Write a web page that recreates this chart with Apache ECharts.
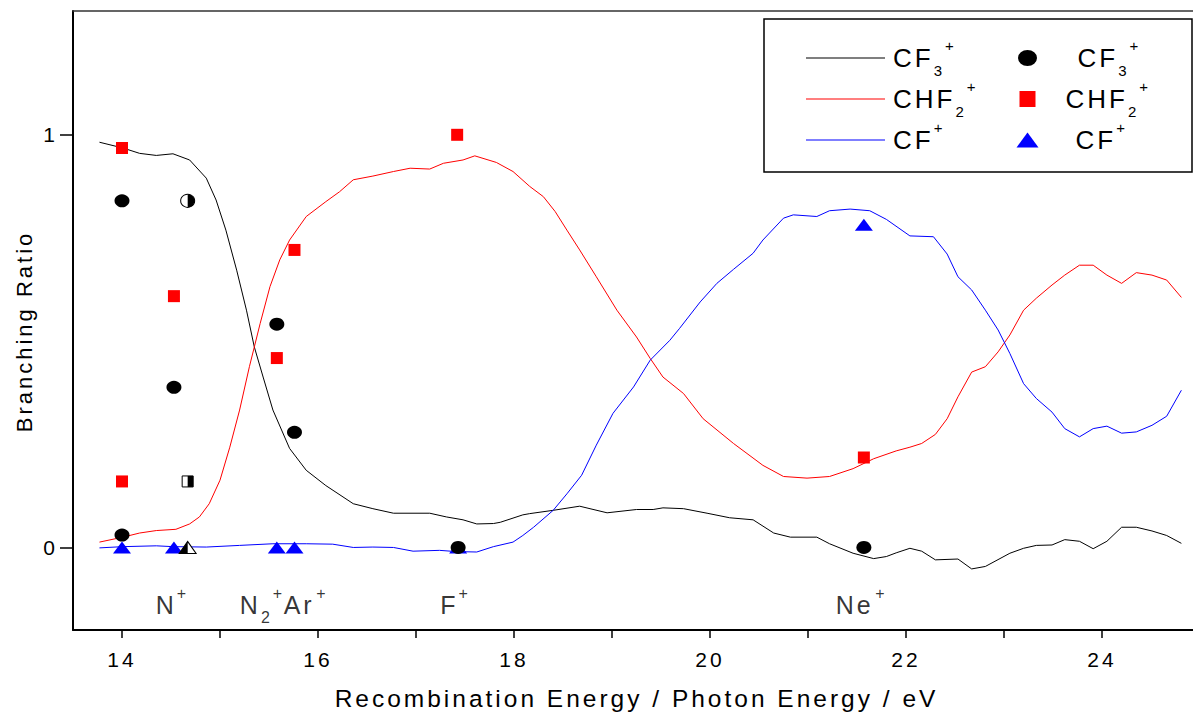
<!DOCTYPE html>
<html><head><meta charset="utf-8">
<script src="https://cdn.jsdelivr.net/npm/echarts@6/dist/echarts.min.js"></script>
<style>
html,body{margin:0;padding:0;background:#fff;}
#chart{width:1193px;height:712px;}
#chart svg text{letter-spacing:3px;}
</style></head><body><div id="chart"></div>
<script>
// ---- fitted curves (energy eV, branching ratio) ----
const cf3LineE = [13.77,14.01,14.18,14.35,14.52,14.69,14.86,14.96,15.06,15.17,15.27,15.35,15.44,15.54,15.71,15.88,16.08,16.36,16.56,16.77,17.14,17.31,17.48,17.62,17.79,17.86,18.09,18.16,18.40,18.67,18.95,19.25,19.42,19.52,19.73,19.97,20.20,20.44,20.65,20.82,21.09,21.22,21.46,21.67,21.80,21.90,22.04,22.16,22.30,22.53,22.67,22.81,23.06,23.20,23.33,23.49,23.62,23.77,23.91,24.05,24.20,24.35,24.51,24.66,24.81];
const cf3LineV = [0.982,0.968,0.955,0.950,0.954,0.939,0.895,0.842,0.769,0.672,0.575,0.486,0.413,0.333,0.240,0.187,0.150,0.106,0.094,0.083,0.083,0.074,0.067,0.057,0.058,0.061,0.079,0.082,0.090,0.100,0.084,0.092,0.092,0.096,0.094,0.083,0.072,0.067,0.035,0.025,0.025,0.009,-0.014,-0.027,-0.022,-0.013,-0.002,-0.009,-0.030,-0.028,-0.052,-0.046,-0.014,-0.002,0.005,0.006,0.019,0.015,-0.003,0.015,0.049,0.049,0.040,0.029,0.010];
const chf2LineE = [13.77,14.01,14.18,14.35,14.55,14.69,14.79,14.89,15.00,15.10,15.20,15.30,15.41,15.51,15.61,15.71,15.88,16.08,16.22,16.36,16.56,16.77,16.94,17.14,17.28,17.48,17.60,17.82,17.99,18.16,18.30,18.42,18.54,18.67,18.84,19.05,19.25,19.39,19.52,19.73,19.93,20.24,20.54,20.75,20.99,21.22,21.46,21.67,21.90,22.04,22.16,22.30,22.42,22.53,22.67,22.81,22.94,23.06,23.20,23.33,23.49,23.62,23.77,23.91,24.05,24.20,24.35,24.51,24.66,24.81];
const chf2LineV = [0.013,0.025,0.035,0.041,0.044,0.057,0.074,0.106,0.163,0.243,0.333,0.438,0.543,0.632,0.697,0.745,0.802,0.838,0.862,0.891,0.900,0.911,0.919,0.917,0.931,0.939,0.949,0.933,0.911,0.875,0.850,0.814,0.769,0.721,0.656,0.575,0.510,0.458,0.413,0.373,0.312,0.252,0.199,0.172,0.168,0.172,0.191,0.215,0.234,0.243,0.252,0.274,0.312,0.365,0.425,0.438,0.474,0.515,0.575,0.604,0.636,0.660,0.684,0.684,0.660,0.640,0.666,0.660,0.648,0.606];
const cfLineE = [13.77,14.01,14.35,14.52,14.86,15.20,15.54,15.88,16.15,16.36,16.56,16.77,16.97,17.24,17.41,17.62,17.79,17.99,18.09,18.20,18.40,18.54,18.69,18.84,19.01,19.22,19.39,19.59,19.69,19.90,20.07,20.24,20.44,20.54,20.75,20.85,21.09,21.22,21.43,21.63,21.80,22.04,22.28,22.42,22.53,22.67,22.81,22.94,23.06,23.20,23.33,23.49,23.62,23.77,23.91,24.05,24.20,24.35,24.51,24.66,24.81];
const cfLineV = [-0.001,0.002,0.004,0.002,0.001,0.005,0.009,0.009,0.008,0.000,0.001,0.000,-0.009,-0.007,-0.010,-0.011,0.002,0.013,0.029,0.049,0.090,0.130,0.175,0.248,0.325,0.389,0.454,0.502,0.531,0.595,0.640,0.674,0.713,0.745,0.798,0.806,0.802,0.816,0.820,0.816,0.795,0.755,0.753,0.711,0.656,0.624,0.575,0.527,0.470,0.397,0.361,0.328,0.288,0.268,0.288,0.294,0.277,0.280,0.296,0.318,0.381];

// ---- measured points ----
const cf3PtsE = [14.0,14.0,14.53,15.58,15.76,17.43,21.57];
const cf3PtsV = [0.84,0.03,0.388,0.541,0.279,0.0,0.0];
const chf2PtsE = [14.0,14.0,14.53,15.58,15.76,17.42,21.57];
const chf2PtsV = [0.968,0.16,0.609,0.459,0.721,1.0,0.218];
const cfPtsE = [14.0,14.53,15.58,15.76,17.43,21.57];
const cfPtsV = [0,0,0,0,0,0.782];
// half-filled markers (CF3+, CHF2+, CF+) at one energy
const halfE = 14.67;
const halfV = [0.84, 0.16, 0.0];

// ---- annotations (recombination energies) ----
const annoE = [14.53, 15.67, 17.42, 21.57];
const annoText = ['N+', 'N2+Ar+', 'F+', 'Ne+'];
const annoV = -0.14;

// ---- axes ----
const xMin = 13.5, xMax = 25, yMin = -0.2, yMax = 1.3;
const xLabelTicks = [14,16,18,20,22,24];
const xAllTicks = [14,15,16,17,18,19,20,21,22,23,24,25];
const yTicks = [0,1];
const xTitle = 'Recombination Energy / Photon Energy / eV';
const yTitle = 'Branching Ratio';
const species = ['CF3+','CHF2+','CF+'];

const FONT = '"Liberation Sans", Arial, Helvetica, sans-serif';
const SP = 3; // letter spacing (px) applied through CSS
const pairs = (xs, ys) => xs.map((x, i) => [x, ys[i]]);

// chemical formula -> rich text: digits subscript, '+' superscript.
function toRich(s) {
  const kind = ch => ch === '+' ? 'p' : (/[0-9]/.test(ch) ? 'b' : 'm');
  let out = '', cur = '', k = null;
  const flush = () => { if (cur) out += '{' + k + cur.length + '|' + cur + '}'; };
  for (const ch of s) {
    const kk = kind(ch);
    if (kk !== k) { flush(); cur = ''; k = kk; }
    cur += ch;
  }
  flush();
  return out;
}
function richStyles(mainSize, subSize, lineH, subH, supH) {
  const r = {};
  for (let n = 1; n <= 4; n++) {
    r['m' + n] = {fontSize: mainSize, lineHeight: lineH, fontFamily: FONT, color: '#000', padding: [0, SP * n, 0, 0]};
    r['b' + n] = {fontSize: subSize, lineHeight: subH, verticalAlign: 'bottom', fontFamily: FONT, color: '#000', padding: [0, SP * n, 0, 0]};
    r['p' + n] = {fontSize: subSize, lineHeight: supH, verticalAlign: 'top', fontFamily: FONT, color: '#000', padding: [0, SP * n, 0, 0]};
  }
  return r;
}

const chart = echarts.init(document.getElementById('chart'), null, {renderer: 'svg', width: 1193, height: 712});

const legendRich = Object.assign(richStyles(26, 15, 40, 12, 18),
  {pad3: {width: 3}, pad22: {width: 22}, pad32: {width: 32}, pad34: {width: 34}});
const rightPads = {'CF3+': 34, 'CHF2+': 22, 'CF+': 32};
const legendIcons = {
  'CF3+': 'path://M0,8 A9.5,8 0 1 1 19,8 A9.5,8 0 1 1 0,8 Z',
  'CHF2+': 'path://M0,0 L16,0 L16,16 L0,16 Z',
  'CF+': 'path://M11,0 L22,15 L0,15 Z'
};

const option = {
  animation: false,
  backgroundColor: '#fff',
  textStyle: {fontFamily: FONT, color: '#000'},
  grid: {left: 73, right: -7, top: 11, bottom: 82, containLabel: false, outerBoundsMode: 'none'},
  graphic: [{
    type: 'rect', shape: {x: 764, y: 19, width: 428, height: 153},
    style: {fill: 'none', stroke: '#000', lineWidth: 1.5}, z: 10
  }],
  legend: [
    {
      data: species.map(s => s + ' fit'),
      orient: 'vertical', left: 806, top: 38, itemGap: 1, padding: 0,
      itemWidth: 79, itemHeight: 1.2, icon: 'rect',
      selectedMode: false,
      formatter: n => '{pad3|}' + toRich(n.replace(' fit', '')),
      textStyle: {rich: legendRich, fontSize: 26, fontFamily: FONT}
    },
    {
      data: species.map(s => ({name: s, icon: legendIcons[s]})),
      orient: 'vertical', left: 1016.5, top: 38, itemGap: 1, padding: 0,
      itemWidth: 22, itemHeight: 16, symbolKeepAspect: true,
      selectedMode: false,
      formatter: n => '{pad' + rightPads[n] + '|}' + toRich(n),
      textStyle: {rich: legendRich, fontSize: 26, fontFamily: FONT}
    }
  ],
  xAxis: [
    {
      type: 'value', min: xMin, max: xMax, position: 'bottom',
      axisLine: {show: true, onZero: false, lineStyle: {color: '#000', width: 2}},
      axisTick: {show: true, customValues: xAllTicks, length: 8, lineStyle: {color: '#000', width: 1.5}},
      axisLabel: {show: true, customValues: xLabelTicks, margin: 19, fontSize: 21, color: '#000', fontFamily: FONT},
      splitLine: {show: false},
      name: xTitle, nameLocation: 'middle', nameGap: 56,
      nameTextStyle: {fontSize: 24.5, color: '#000', fontFamily: FONT}
    },
    {
      type: 'value', min: xMin, max: xMax, position: 'top',
      axisLine: {show: true, onZero: false, lineStyle: {color: '#333', width: 1.5}},
      axisTick: {show: false}, axisLabel: {show: false}, splitLine: {show: false}
    }
  ],
  yAxis: [{
    type: 'value', min: yMin, max: yMax, position: 'left',
    axisLine: {show: true, onZero: false, lineStyle: {color: '#000', width: 2}},
    axisTick: {show: true, customValues: yTicks, length: 13, lineStyle: {color: '#000', width: 1.5}},
    axisLabel: {show: true, customValues: yTicks, margin: 15, fontSize: 21, color: '#000', fontFamily: FONT},
    splitLine: {show: false},
    name: yTitle, nameLocation: 'middle', nameGap: 38,
    nameTextStyle: {fontSize: 22, color: '#000', fontFamily: FONT, padding: [0, 22, 0, 0]}
  }],
  series: [
    {name: 'CF3+ fit', type: 'line', data: pairs(cf3LineE, cf3LineV), symbol: 'none',
     lineStyle: {color: '#000', width: 1}, itemStyle: {color: '#000'}, z: 2},
    {name: 'CHF2+ fit', type: 'line', data: pairs(chf2LineE, chf2LineV), symbol: 'none',
     lineStyle: {color: '#ff0000', width: 1}, itemStyle: {color: '#ff0000'}, z: 2},
    {name: 'CF+ fit', type: 'line', data: pairs(cfLineE, cfLineV), symbol: 'none',
     lineStyle: {color: '#0000ff', width: 1}, itemStyle: {color: '#0000ff'}, z: 2},
    {name: 'CF+', type: 'scatter', data: pairs(cfPtsE, cfPtsV), symbol: 'triangle', symbolSize: [18, 12],
     itemStyle: {color: '#0000ff', opacity: 1}, z: 3},
    {name: 'CHF2+', type: 'scatter', data: pairs(chf2PtsE, chf2PtsV), symbol: 'rect', symbolSize: [12, 12],
     itemStyle: {color: '#ff0000', opacity: 1}, z: 4},
    {name: 'CF3+', type: 'scatter', data: pairs(cf3PtsE, cf3PtsV), symbol: 'circle', symbolSize: [15, 13],
     itemStyle: {color: '#000', opacity: 1}, z: 5},
    {name: 'half outline', type: 'scatter', z: 6, silent: true,
     itemStyle: {color: '#fff', borderColor: '#000', borderWidth: 1, opacity: 1},
     data: [
       {value: [halfE, halfV[0]], symbol: 'circle', symbolSize: [14, 13]},
       {value: [halfE, halfV[1]], symbol: 'rect', symbolSize: [11, 11]},
       {value: [halfE, halfV[2]], symbol: 'triangle', symbolSize: [17, 12]}
     ]},
    {name: 'half fill', type: 'scatter', z: 7, silent: true,
     itemStyle: {color: '#000', opacity: 1},
     data: [
       {value: [halfE, halfV[0]], symbol: 'path://M0,0 A10,10 0 0 1 0,20 Z', symbolSize: [7, 13], symbolOffset: [3.5, 0]},
       {value: [halfE, halfV[1]], symbol: 'rect', symbolSize: [5.5, 11], symbolOffset: [2.75, 0]},
       {value: [halfE, halfV[2]], symbol: 'path://M10,0 L10,20 L0,20 Z', symbolSize: [8.5, 12], symbolOffset: [-4.25, 0]}
     ]},
    {name: 'annotations', type: 'scatter', z: 8, silent: true, symbolSize: 0,
     data: annoE.map((e, i) => ({value: [e, annoV], name: annoText[i]})),
     label: {
       show: true, position: 'inside', formatter: p => toRich(p.name),
       rich: richStyles(25, 16, 40, 16, 16)
     }}
  ]
};
chart.setOption(option);
</script>
</body></html>
